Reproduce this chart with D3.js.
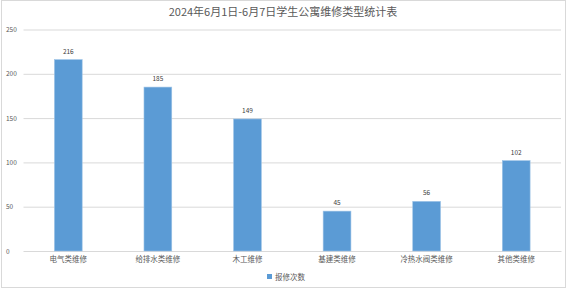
<!DOCTYPE html>
<html>
<head>
<meta charset="utf-8">
<script src="https://cdn.jsdelivr.net/npm/d3@7"></script>
<style>
  body { margin: 0; background: #fff; }
  text { font-family: "Noto Sans CJK SC", "Noto Sans", sans-serif; }
</style>
</head>
<body>
<div id="viz"></div>
<script>
const width = 567;
const height = 289;
const margin = {top: 29.5, right: 6, bottom: 38, left: 23.5};

const titleText = '2024年6月1日-6月7日学生公寓维修类型统计表';
const categories = ['电气类维修', '给排水类维修', '木工维修', '基建类维修', '冷热水阀类维修', '其他类维修'];
const counts = [216, 185, 149, 45, 56, 102];
const seriesName = '报修次数';
const yTicks = [0, 50, 100, 150, 200, 250];

const svg = d3.select('#viz')
    .append('svg')
        .attr('width', width)
        .attr('height', height);

// outer frame
svg.append('rect')
    .attr('x', 1.5).attr('y', 0.5)
    .attr('width', width - 3).attr('height', height - 2)
    .attr('fill', 'none')
    .attr('stroke', '#d9d9d9');

const x = d3.scaleBand()
    .domain(categories)
    .range([margin.left, width - margin.right])
    .paddingInner(0.69)
    .paddingOuter(0.345);

const y = d3.scaleLinear()
    .domain([0, 250])
    .range([height - margin.bottom, margin.top]);

svg.append('text')
    .attr('x', 283)
    .attr('y', 16)
    .attr('text-anchor', 'middle')
    .attr('font-size', 11)
    .attr('fill', '#595959')
    .text(titleText);

// grid + y labels
const yAxis = svg.append('g')
    .attr('transform', `translate(${margin.left}, 0)`)
    .call(d3.axisLeft(y).tickValues(yTicks).tickSize(-(width - margin.left - margin.right)).tickPadding(5));
yAxis.select('.domain').remove();
yAxis.selectAll('.tick line').attr('stroke', '#d9d9d9');
yAxis.selectAll('.tick text')
    .attr('font-size', 6.5)
    .attr('fill', '#595959')
    .attr('text-anchor', 'start')
    .attr('x', -margin.left + 6);

// x axis
const xAxis = svg.append('g')
    .attr('transform', `translate(0, ${height - margin.bottom})`)
    .call(d3.axisBottom(x).tickSize(0).tickPadding(6));
xAxis.select('.domain').attr('stroke', '#d9d9d9');
xAxis.selectAll('.tick text')
    .attr('font-size', 7.5)
    .attr('fill', '#595959');

svg.selectAll('rect.bar')
    .data(counts)
    .join('rect')
        .attr('class', 'bar')
        .attr('x', (d, i) => x(categories[i]))
        .attr('y', d => y(d))
        .attr('width', x.bandwidth())
        .attr('height', d => y(0) - y(d))
        .attr('fill', '#5b9bd5')
        .attr('stroke', '#9dc3e6')
        .attr('stroke-width', 0.6);

svg.selectAll('text.val')
    .data(counts)
    .join('text')
        .attr('class', 'val')
        .attr('x', (d, i) => x(categories[i]) + x.bandwidth() / 2)
        .attr('y', d => y(d) - 6)
        .attr('text-anchor', 'middle')
        .attr('font-size', 6.5)
        .attr('fill', '#404040')
        .text(d => d);

// legend
svg.append('rect')
    .attr('x', 267).attr('y', 274)
    .attr('width', 5).attr('height', 5)
    .attr('fill', '#5b9bd5');
svg.append('text')
    .attr('x', 275)
    .attr('y', 279.5)
    .attr('font-size', 7.5)
    .attr('fill', '#595959')
    .text(seriesName);
</script>
</body>
</html>
